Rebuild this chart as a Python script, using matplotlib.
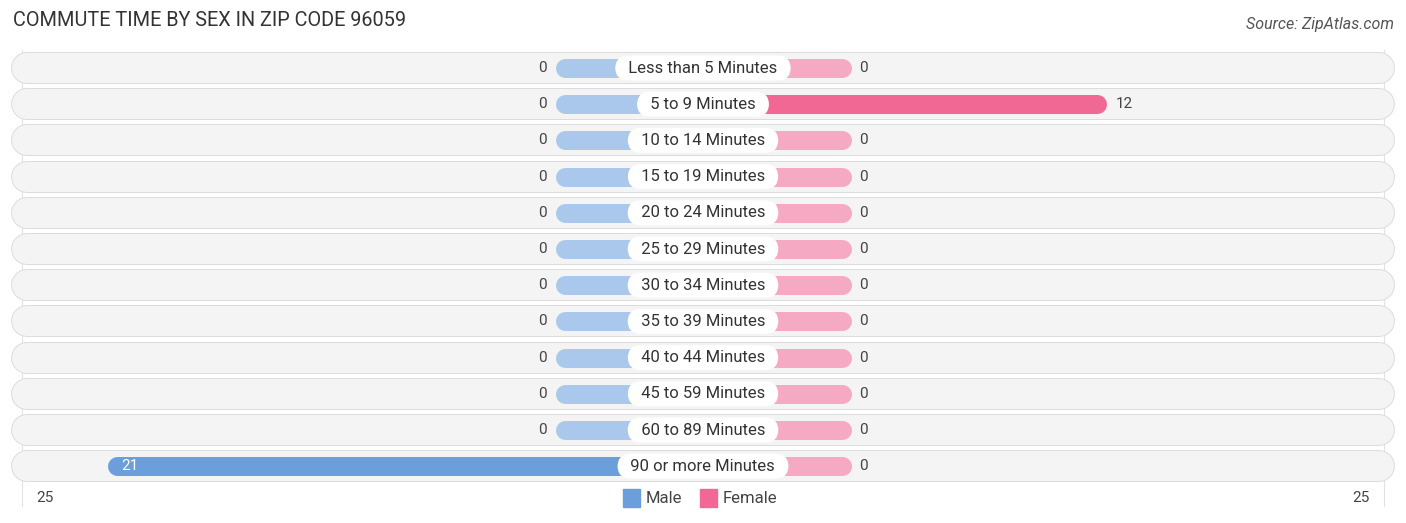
import matplotlib
matplotlib.use("Agg")
import matplotlib.pyplot as plt
from matplotlib.patches import Rectangle

plt.rcParams['font.family'] = ['Roboto', 'DejaVu Sans']

categories = ['Less than 5 Minutes', '5 to 9 Minutes', '10 to 14 Minutes',
              '15 to 19 Minutes', '20 to 24 Minutes', '25 to 29 Minutes',
              '30 to 34 Minutes', '35 to 39 Minutes', '40 to 44 Minutes',
              '45 to 59 Minutes', '60 to 89 Minutes', '90 or more Minutes']
male = [0, 0, 0, 0, 0, 0, 0, 0, 0, 0, 0, 21]
female = [0, 12, 0, 0, 0, 0, 0, 0, 0, 0, 0, 0]
axis_max = 25

male_c, male_light = '#6a9fdb', '#a9c8ec'
female_c, female_light = '#f06893', '#f6a9c2'

W, H = 1406, 523
px_unit = 21.33          # pixels per unit
stub = 148 / px_unit     # min bar length (zero values)
row_px = 36.2
y0_px = 68

fig = plt.figure(figsize=(W / 100, H / 100), dpi=100)
ax = fig.add_axes([0, 0, 1, 1])
half = (W / 2) / px_unit
ax.set_xlim(-half, half)
ax.set_ylim((H - y0_px) / row_px, -y0_px / row_px)
ax.axis('off')

pt = 72 / 100  # points per pixel
bar_lw = 19 * pt
bg_lw = 30 * pt
r = 9.5 / px_unit
bg_r = 15 / px_unit
edge = axis_max + stub
bg_edge = 691 / px_unit

# faint gridlines at +-25
for gx in (-edge, edge):
    ax.plot([gx, gx], [-0.5, 12.1], color='#e2e2e2', lw=0.8, zorder=0)

for i, cat in enumerate(categories):
    # background pill with thin border
    ax.plot([-bg_edge + bg_r, bg_edge - bg_r], [i, i], color='#dcdcdc',
            lw=bg_lw + 1.4, solid_capstyle='round', zorder=1)
    ax.plot([-bg_edge + bg_r, bg_edge - bg_r], [i, i], color='#f4f4f4',
            lw=bg_lw, solid_capstyle='round', zorder=2)

    m, f = male[i], female[i]
    mc = male_c if m > 0 else male_light
    fc = female_c if f > 0 else female_light
    ax.plot([-(m + stub) + r, 0], [i, i], color=mc, lw=bar_lw,
            solid_capstyle='round', zorder=3)
    ax.plot([0, (f + stub) - r], [i, i], color=fc, lw=bar_lw,
            solid_capstyle='round', zorder=3)

    ax.text(0, i, '  ' + cat + '  ', ha='center', va='center', fontsize=12,
            color='#333333', zorder=5,
            bbox=dict(boxstyle='round,pad=0.3,rounding_size=0.8',
                      fc='white', ec='none'))

    if m > 0:
        ax.text(-(m + stub) + 0.65, i, str(m), ha='left', va='center',
                fontsize=11, color='white', zorder=4)
    else:
        ax.text(-(m + stub) - 0.4, i, str(m), ha='right', va='center',
                fontsize=11, color='#444444', zorder=4)
    ax.text((f + stub) + 0.4, i, str(f), ha='left', va='center',
            fontsize=11, color='#444444', zorder=4)

# axis labels
yb = (498 - y0_px) / row_px
ax.text(-edge + 0.7, yb, str(axis_max), ha='left', va='center', fontsize=11, color='#444444')
ax.text(edge - 0.7, yb, str(axis_max), ha='right', va='center', fontsize=11, color='#444444')

# legend
for x, c, lab in [(-3.75, male_c, 'Male'), (-0.14, female_c, 'Female')]:
    ax.add_patch(Rectangle((x, yb - 0.235), 0.78, 0.47, color=c, zorder=3))
    ax.text(x + 1.08, yb, lab, ha='left', va='center', fontsize=12, color='#444444')

fig.text(13 / W, 1 - 21 / H, 'COMMUTE TIME BY SEX IN ZIP CODE 96059', ha='left',
         va='center', fontsize=14.3, color='#333333')
fig.text(1 - 12 / W, 1 - 24 / H, 'Source: ZipAtlas.com', ha='right', va='center',
         fontsize=11.5, style='italic', color='#555555')

fig.savefig('out.png', dpi=100)
